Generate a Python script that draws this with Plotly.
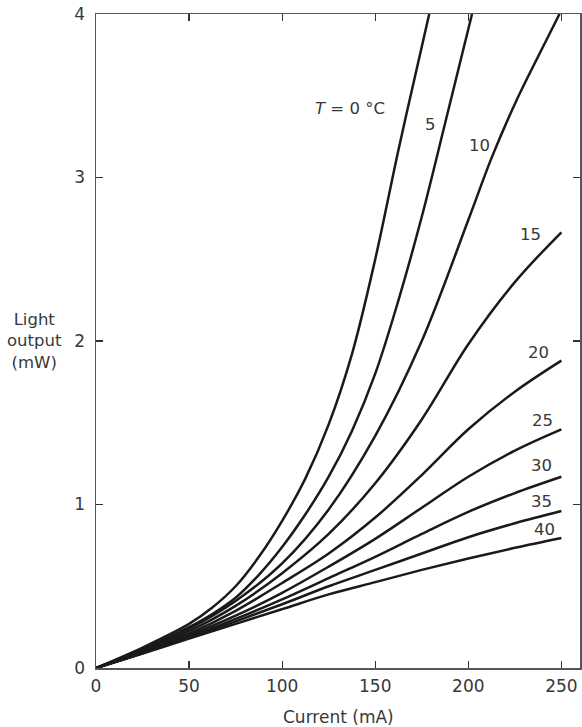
import plotly.graph_objects as go

current_grid = [0, 25, 50, 75, 100, 125, 150, 175, 200, 225, 250]

# Light output (mW) per temperature
current_0 = [0, 25, 50, 62.5, 75, 87.5, 100, 112.5, 125, 137.5, 150, 162.5, 175, 179]
output_0 = [0, 0.125, 0.27, 0.37, 0.50, 0.68, 0.90, 1.16, 1.49, 1.92, 2.50, 3.17, 3.80, 4.0]

current_5 = [0, 25, 50, 62.5, 75, 87.5, 100, 112.5, 125, 137.5, 150, 162.5, 175, 187.5, 202]
output_5 = [0, 0.115, 0.25, 0.33, 0.43, 0.57, 0.74, 0.94, 1.17, 1.45, 1.80, 2.25, 2.76, 3.33, 4.0]

current_10 = [0, 25, 50, 75, 100, 125, 150, 175, 200, 212.5, 225, 237.5, 249]
output_10 = [0, 0.11, 0.24, 0.41, 0.64, 0.97, 1.42, 2.0, 2.74, 3.12, 3.45, 3.74, 4.0]

output_15 = [0, 0.105, 0.225, 0.38, 0.58, 0.82, 1.13, 1.52, 1.98, 2.36, 2.665]
output_20 = [0, 0.10, 0.21, 0.35, 0.52, 0.70, 0.92, 1.18, 1.46, 1.69, 1.88]
output_25 = [0, 0.095, 0.20, 0.32, 0.46, 0.62, 0.79, 0.98, 1.17, 1.33, 1.46]
output_30 = [0, 0.092, 0.19, 0.30, 0.42, 0.55, 0.68, 0.82, 0.955, 1.07, 1.17]
output_35 = [0, 0.09, 0.185, 0.285, 0.39, 0.50, 0.60, 0.70, 0.80, 0.885, 0.96]
output_40 = [0, 0.088, 0.18, 0.27, 0.36, 0.45, 0.525, 0.60, 0.67, 0.735, 0.795]

series = [
    (current_0, output_0),
    (current_5, output_5),
    (current_10, output_10),
    (current_grid, output_15),
    (current_grid, output_20),
    (current_grid, output_25),
    (current_grid, output_30),
    (current_grid, output_35),
    (current_grid, output_40),
]

label_texts = ["<i>T</i> = 0 °C", "5", "10", "15", "20", "25", "30", "35", "40"]
label_x = [136.4, 179.5, 205.9, 233.3, 237.8, 239.6, 239.2, 239.2, 241.0]
label_y = [3.425, 3.327, 3.195, 2.654, 1.931, 1.512, 1.237, 1.02, 0.849]

x_ticks = [0, 50, 100, 150, 200, 250]
y_ticks = [0, 1, 2, 3, 4]

FONT = "DejaVu Sans"
TXT = "#383838"

fig = go.Figure()
for xs, ys in series:
    fig.add_trace(go.Scatter(
        x=xs, y=ys, mode="lines",
        line=dict(color="#1a1a1a", width=2.5, shape="spline", smoothing=1.0),
        showlegend=False, hoverinfo="skip",
    ))

for t, lx, ly in zip(label_texts, label_x, label_y):
    fig.add_annotation(x=lx, y=ly, text=t, showarrow=False,
                       font=dict(family=FONT, size=16.5, color=TXT),
                       xanchor="center", yanchor="middle")

fig.add_annotation(x=0.5, xref="paper", y=-0.075, yref="paper",
                   text="Current (mA)", showarrow=False,
                   font=dict(family=FONT, size=17, color=TXT),
                   xanchor="center", yanchor="middle")
fig.add_annotation(x=0, xref="paper", xshift=-62, y=2, yref="y",
                   text="Light<br>output<br>(mW)", showarrow=False,
                   font=dict(family=FONT, size=16.5, color=TXT),
                   xanchor="center", yanchor="middle", align="center")

axis_common = dict(
    showline=True, linecolor="#555555", linewidth=1.5, mirror="ticks",
    ticks="inside", ticklen=7, tickwidth=1.2, tickcolor="#333333",
    showgrid=False, zeroline=False, ticklabeloverflow="allow",
    tickfont=dict(family=FONT, size=17, color=TXT),
)

fig.update_layout(
    width=582, height=727,
    margin=dict(l=96, r=0, t=14, b=59),
    paper_bgcolor="white", plot_bgcolor="white",
    hovermode=False,
    xaxis=dict(range=[0, 260], tickvals=x_ticks, ticklabelstandoff=2, **axis_common),
    yaxis=dict(range=[0, 4], tickvals=y_ticks, ticklabelstandoff=6, **axis_common),
)

# remove the page's default body margin so the figure fills the window exactly
fig.write_html(
    "out.html",
    config={"displayModeBar": False, "staticPlot": True},
    post_script="document.body.style.margin='0';document.body.style.overflow='hidden';",
)
